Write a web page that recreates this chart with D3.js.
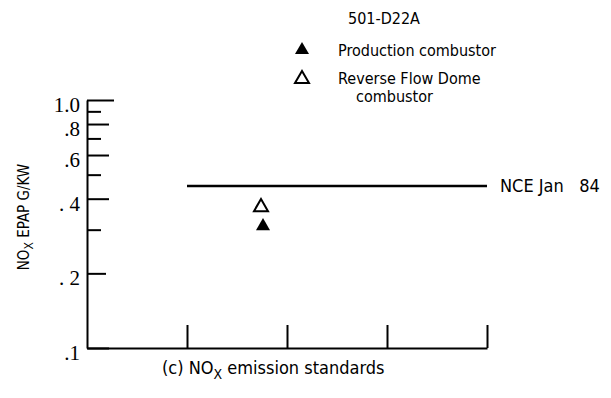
<!DOCTYPE html>
<html>
<head>
<meta charset="utf-8">
<script src="https://cdn.jsdelivr.net/npm/d3@7"></script>
<style>
  body { margin: 0; background: #fff; }
  text { font-family: "DejaVu Sans Condensed", "DejaVu Sans", sans-serif; fill: #000; }
</style>
</head>
<body>
<div id="chart"></div>
<script>
// data
const yMajorTicks = [1.0, 0.8, 0.6, 0.4, 0.2, 0.1]
const yMajorLabels = ["1.0", ".8", ".6", ". 4", ". 2", ".1"]
const yMinorTicks = [0.9, 0.7, 0.5, 0.3]
const xTicks = [1, 2, 3, 4]
const standardName = "NCE Jan 84"
const standardValue = 0.45
const standardRange = [1, 4]
const productionPts = [{x: 1.76, y: 0.31}]
const reverseFlowPts = [{x: 1.74, y: 0.37}]
const legendTitle = "501-D22A"

const W = 611, H = 398

const svg = d3.select("#chart")
    .append("svg")
    .attr("width", W)
    .attr("height", H)

// scales
const x = d3.scaleLinear().domain([0, 4]).range([87, 487])
const y = d3.scaleLog().domain([0.1, 1]).range([348, 100])

// y axis, ticks point inward
const yAxis = svg.append("g")
    .attr("transform", `translate(${x(0)},0)`)
    .call(d3.axisLeft(y)
        .tickValues(yMajorTicks)
        .tickFormat((d, i) => yMajorLabels[i])
        .tickSizeInner(-22)
        .tickSizeOuter(0)
        .tickPadding(7))
yAxis.selectAll(".tick line")
    .attr("x2", d => d === 1.0 ? 27 : (d === 0.2 ? 19 : 22))
    .attr("stroke-width", 2)
yAxis.selectAll(".tick text")
    .style("font-family", "'Liberation Serif', serif")
    .style("font-size", "21px")
    .attr("xml:space", "preserve")
    .attr("dy", "0.55em")
yAxis.select(".domain").attr("stroke-width", 2)

svg.append("g")
    .attr("transform", `translate(${x(0)},0)`)
    .call(d3.axisLeft(y)
        .tickValues(yMinorTicks)
        .tickFormat("")
        .tickSizeInner(-14)
        .tickSizeOuter(0))
    .call(g => g.select(".domain").remove())
    .selectAll(".tick line").attr("stroke-width", 2)

// x axis, ticks upward, no labels
const xAxis = svg.append("g")
    .attr("transform", `translate(0,${y(0.1)})`)
    .call(d3.axisBottom(x)
        .tickValues(xTicks)
        .tickFormat("")
        .tickSizeInner(-23)
        .tickSizeOuter(0))
xAxis.selectAll(".tick line").attr("stroke-width", 2)
xAxis.select(".domain").attr("stroke-width", 2)

// standard line
svg.append("line")
    .attr("x1", x(standardRange[0]))
    .attr("x2", x(standardRange[1]))
    .attr("y1", y(standardValue))
    .attr("y2", y(standardValue))
    .attr("stroke", "#000")
    .attr("stroke-width", 2.5)
svg.append("text")
    .attr("x", x(standardRange[1]) + 13)
    .attr("y", y(standardValue) + 6)
    .style("font-size", "18px")
    .attr("xml:space", "preserve")
    .text(standardName.replace("Jan ", "Jan   "))

// markers
const tri = d3.symbol().type(d3.symbolTriangle).size(85)
svg.selectAll(".prod")
    .data(productionPts)
    .join("path")
    .attr("class", "prod")
    .attr("d", tri)
    .attr("transform", d => `translate(${x(d.x)},${y(d.y)})`)
    .attr("fill", "#000")
svg.selectAll(".rfd")
    .data(reverseFlowPts)
    .join("path")
    .attr("class", "rfd")
    .attr("d", tri)
    .attr("transform", d => `translate(${x(d.x)},${y(d.y)})`)
    .attr("fill", "#fff")
    .attr("stroke", "#000")
    .attr("stroke-width", 2)

// legend
const lf = "16px"
svg.append("text")
    .attr("x", 348).attr("y", 24)
    .style("font-size", lf)
    .text(legendTitle)
svg.append("path")
    .attr("d", tri)
    .attr("transform", "translate(302,50)")
    .attr("fill", "#000")
svg.append("text")
    .attr("x", 338).attr("y", 56)
    .style("font-size", lf)
    .text("Production combustor")
svg.append("path")
    .attr("d", tri)
    .attr("transform", "translate(302,79)")
    .attr("fill", "#fff")
    .attr("stroke", "#000")
    .attr("stroke-width", 2)
svg.append("text")
    .attr("x", 338).attr("y", 84)
    .style("font-size", lf)
    .text("Reverse Flow Dome")
svg.append("text")
    .attr("x", 356).attr("y", 102)
    .style("font-size", lf)
    .text("combustor")

// y label
const yl = svg.append("text")
    .attr("transform", "translate(29,217) rotate(-90)")
    .attr("text-anchor", "middle")
    .style("font-size", "15px")
yl.append("tspan").text("NO")
yl.append("tspan").attr("dy", 4).style("font-size", "12px").text("X")
yl.append("tspan").attr("dy", -4).text(" EPAP G/KW")

// caption
const cap = svg.append("text")
    .attr("x", 162).attr("y", 374)
    .style("font-size", "18px")
cap.append("tspan").text("(c) NO")
cap.append("tspan").attr("dy", 5).style("font-size", "14px").text("X")
cap.append("tspan").attr("dy", -5).text(" emission standards")
</script>
</body>
</html>
